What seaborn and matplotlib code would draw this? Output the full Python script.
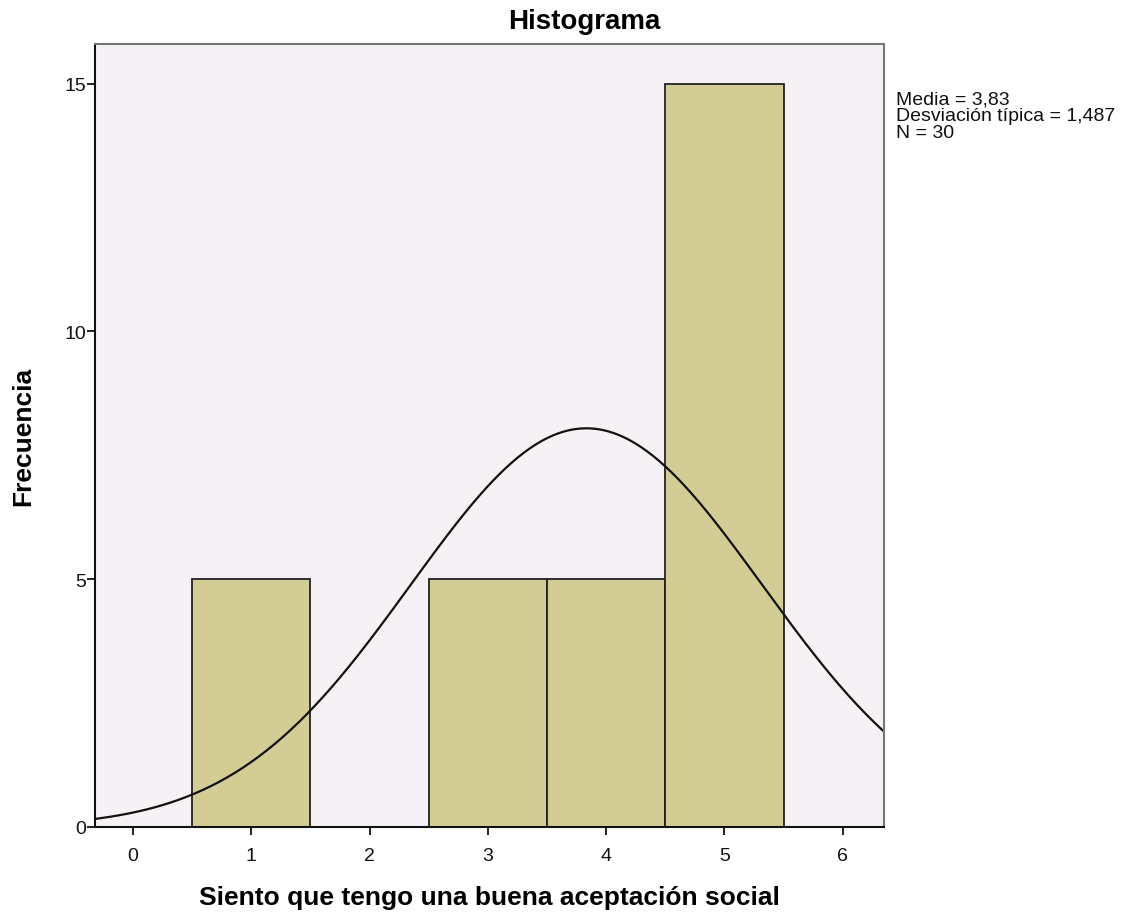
import numpy as np
import pandas as pd
import matplotlib
matplotlib.use("Agg")
import matplotlib.pyplot as plt
import seaborn as sns

valores = [1, 3, 4, 5]
frecuencias = [5, 5, 5, 15]
x_ticks = [0, 1, 2, 3, 4, 5, 6]
y_ticks = [0, 5, 10, 15]

sns.set_theme(style="white")
plt.rcParams['font.family'] = ['Liberation Sans', 'DejaVu Sans']

df = pd.DataFrame({'valor': valores, 'frecuencia': frecuencias})

# estadísticos (muestra expandida)
datos = np.repeat(df['valor'].values, df['frecuencia'].values)
n = len(datos)
media = datos.mean()
desv = datos.std(ddof=1)

fig = plt.figure(figsize=(11.37, 9.2), dpi=100)
ax = fig.add_axes([0.0836, 0.1, 0.694, 0.851])
ax.set_facecolor('#F5F1F5')

sns.histplot(data=df, x='valor', weights='frecuencia', binwidth=1, binrange=(0.5, 5.5),
             color='#D3CD95', edgecolor='#222222', linewidth=1.3, alpha=1, ax=ax)

# curva normal
xs = np.linspace(-0.4, 6.4, 400)
ys = n * 1.0 * np.exp(-0.5 * ((xs - media) / desv) ** 2) / (desv * np.sqrt(2 * np.pi))
sns.lineplot(x=xs, y=ys, color='#111111', linewidth=1.6, ax=ax)

ax.set_xlim(-0.32, 6.35)
ax.set_ylim(0, 15.8)
ax.set_xticks(x_ticks)
ax.set_yticks(y_ticks)
ax.tick_params(axis='both', direction='out', length=5.5, width=1.3, color='#111111',
               labelsize=14, labelcolor='#111111', bottom=True, left=True)
ax.tick_params(axis='x', pad=9)
ax.tick_params(axis='y', pad=1)

for s in ['left', 'bottom']:
    ax.spines[s].set_color('#111111')
    ax.spines[s].set_linewidth(1.5)
for s in ['top', 'right']:
    ax.spines[s].set_color('#777777')
    ax.spines[s].set_linewidth(1.5)

fig.text(0.514, 0.976, 'Histograma', fontsize=20, fontweight='bold', color='black',
         ha='center', va='center')
ax.set_xlabel('Siento que tengo una buena aceptación social', fontsize=19,
              fontweight='bold', labelpad=15, color='black')
ax.set_ylabel('Frecuencia', fontsize=19, fontweight='bold', labelpad=21, color='black')

texto = (f"Media = {media:.2f}".replace('.', ',') + "\n" +
         f"Desviación típica = {desv:.3f}".replace('.', ',') + "\n" +
         f"N = {n}")
fig.text(0.788, 0.901, texto, fontsize=14, va='top', ha='left',
         color='#111111', linespacing=1.0)

fig.savefig('out.png', dpi=100)
